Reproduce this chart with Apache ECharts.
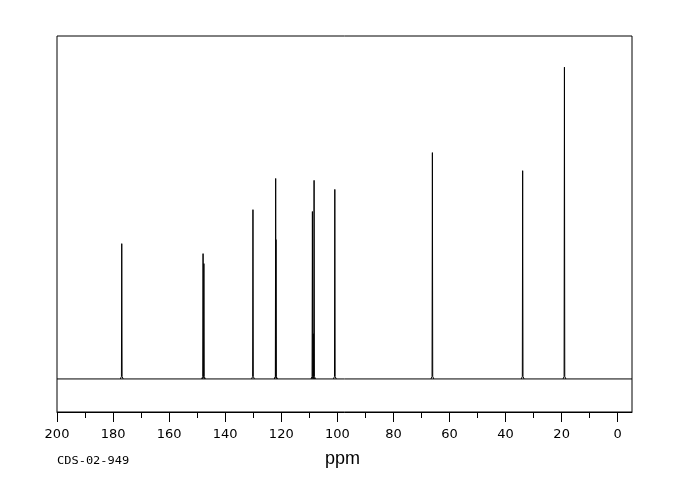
<!DOCTYPE html>
<html><head><meta charset="utf-8">
<script src="https://cdn.jsdelivr.net/npm/echarts@6/dist/echarts.min.js"></script>
<style>html,body{margin:0;padding:0;background:#fff}#c{width:680px;height:500px}</style>
</head><body><div id="c"></div>
<script>
// Peak positions (ppm) and relative intensities (tallest = 100)
const peakPpm = [176.9, 147.9, 147.6, 130.1, 122.0, 121.9, 108.9, 108.6, 108.3, 100.9, 66.1, 33.9, 19.0];
const peakHeight = [43.4, 40.2, 37.0, 54.3, 64.3, 44.7, 53.7, 14.5, 63.7, 60.8, 72.6, 66.8, 100];
const majorTicks = [200, 180, 160, 140, 120, 100, 80, 60, 40, 20, 0];
const minorTicks = [190, 170, 150, 130, 110, 90, 70, 50, 30, 10];
const xTitle = 'ppm';
const codeLabel = 'CDS-02-949';

const X_MIN = -5.1, X_MAX = 200;
const series = [{
  type: 'line', xAxisIndex: 0, yAxisIndex: 0, symbol: 'none', silent: true,
  lineStyle: {color: '#000', width: 1},
  data: [[X_MIN, 0], [X_MAX, 0]]
}];
peakPpm.forEach((p, i) => {
  const h = peakHeight[i];
  series.push({
    type: 'line', xAxisIndex: 0, yAxisIndex: 0, symbol: 'none', silent: true,
    lineStyle: {color: '#000', width: 1},
    data: [[p + 0.5, 0], [p + 0.12, 0.8], [p, h], [p - 0.12, 0.8], [p - 0.5, 0]]
  });
});

const chart = echarts.init(document.getElementById('c'), null, {renderer: 'canvas'});
chart.setOption({
  animation: false,
  grid: {left: 57, right: 48, top: 36, bottom: 88, show: true, borderColor: '#000', borderWidth: 1, backgroundColor: 'transparent'},
  xAxis: [{
    type: 'value', inverse: true, min: X_MIN, max: X_MAX, position: 'bottom', offset: 0,
    axisLine: {show: true, onZero: false, lineStyle: {color: '#000', width: 1}},
    axisTick: {show: true, length: 10, inside: false, customValues: majorTicks, lineStyle: {color: '#000', width: 1}},
    axisLabel: {show: true, customValues: majorTicks, color: '#000', fontSize: 13, fontFamily: 'DejaVu Sans', margin: 16, showMinLabel: true, showMaxLabel: true},
    splitLine: {show: false}
  }, {
    type: 'value', inverse: true, min: X_MIN, max: X_MAX, position: 'bottom', offset: 0,
    axisLine: {show: false, onZero: false},
    axisTick: {show: true, length: 6, inside: false, customValues: minorTicks, lineStyle: {color: '#000', width: 1}},
    axisLabel: {show: false},
    splitLine: {show: false}
  }],
  yAxis: {type: 'value', min: -10.6, max: 110, show: false, splitLine: {show: false}},
  graphic: [
    {type: 'text', x: 342.5, y: 459, style: {text: xTitle, fontSize: 18, fontFamily: 'Liberation Sans', fill: '#000', align: 'center', verticalAlign: 'middle'}},
    {type: 'text', x: 57, y: 461.5, scaleX: 1.2, style: {text: codeLabel, fontSize: 10, fontFamily: 'DejaVu Sans Mono', fill: '#000', align: 'left', verticalAlign: 'middle'}}
  ],
  series: series
});
</script></body></html>
